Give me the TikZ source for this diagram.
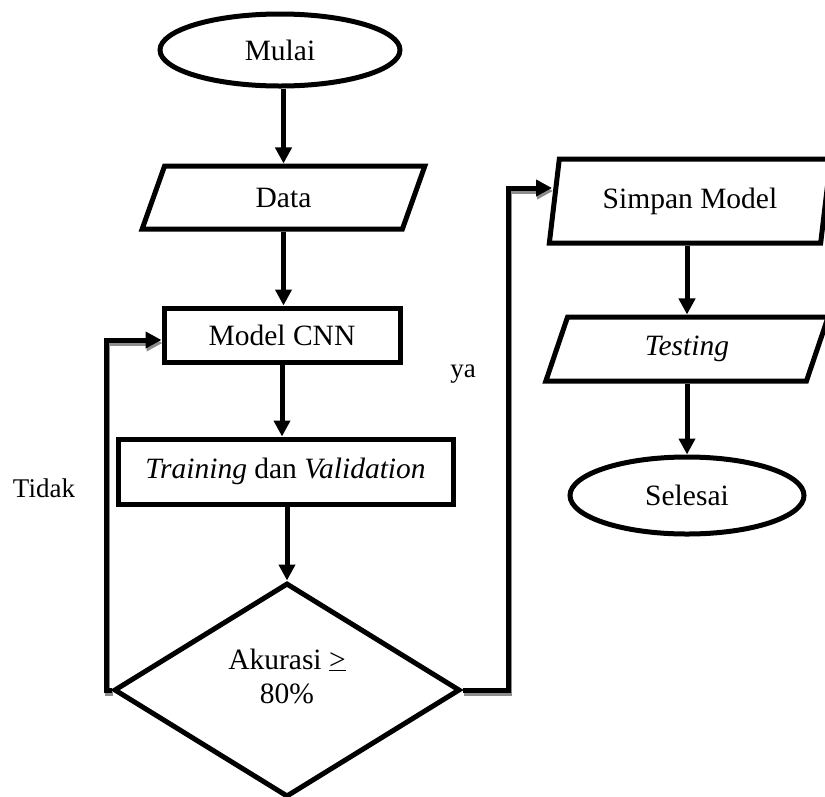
\documentclass[tikz,border=0pt]{standalone}
\usepackage{fontspec}
\setmainfont{Liberation Serif}
\usetikzlibrary{shapes.geometric,arrows.meta}
\begin{document}
\begin{tikzpicture}[x=1pt,y=-1pt,
  every node/.style={font=\fontsize{29.5}{34}\selectfont},
  base/.style={draw=black, line width=5pt, fill=white, inner sep=0pt},
  term/.style={base, ellipse},
  io/.style={base, trapezium, trapezium stretches=true},
  proc/.style={base, rectangle},
  dec/.style={base, diamond},
  lbl/.style={font=\fontsize{27}{31}\selectfont, inner sep=0pt},
  arr/.style={draw=black, line width=5pt, -{Triangle[length=16pt,width=16pt]}},
  shad/.style={draw=black!45, line width=5pt, -{Triangle[length=16pt,width=16pt]}, transform canvas={shift={(1pt,-3pt)}}}
]
\useasboundingbox (0,0) rectangle (825,796);

% nodes
\node[term, minimum width=240pt, minimum height=72pt] (mulai) at (280,50) {Mulai};
\node[io, trapezium left angle=75, trapezium right angle=105, minimum width=283pt, minimum height=63pt] (data) at (283.5,197.5) {Data};
\node[proc, minimum width=236pt, minimum height=54pt] (cnn) at (282,335) {Model CNN};
\node[proc, minimum width=335pt, minimum height=65pt] (train) at (285.5,471.5) {\textit{Training} dan \textit{Validation}};
\node[dec, minimum width=346pt, minimum height=214pt] (dia) at (287,690) {\phantom{A}};
\node[align=center, inner sep=0pt] (diatext) at (287,676) {Akurasi \underline{>}\\80\%};

\node[io, trapezium left angle=76, trapezium right angle=104, minimum width=282pt, minimum height=84pt] (simpan) at (690,201) {Simpan Model};
\node[io, trapezium left angle=73.5, trapezium right angle=106.5, minimum width=284pt, minimum height=64pt] (test) at (687,349) {\textit{Testing}};
\node[term, minimum width=234pt, minimum height=77pt] (sel) at (687,495.5) {Selesai};

\node[lbl] (ya) at (463,374) {ya};
\node[lbl] (tidak) at (44,488) {Tidak};

% loop coordinates
\coordinate (l1) at (106,690);
\coordinate (l2) at (106,340);
\coordinate (r1) at (508,690);
\coordinate (r2) at (508,188);
\coordinate (r3) at (552,188);

% shadows
\draw[shad] (dia.west) -- (l1) -- (l2) -- (cnn.west |- l2);
\draw[shad] (dia.east) -- (r1) -- (r2) -- (r3);

% connectors
\draw[arr] (mulai.south -| data.north) -- (data.north);
\draw[arr] (data.south) -- (data.south |- cnn.north);
\draw[arr] (cnn.south) -- (cnn.south |- train.north);
\draw[arr] (train.south -| dia.north) -- (dia.north);
\draw[arr] (dia.west) -- (l1) -- (l2) -- (cnn.west |- l2);
\draw[arr] (dia.east) -- (r1) -- (r2) -- (r3);
\draw[arr] (test.north |- simpan.south) -- (test.north);
\draw[arr] (test.south) -- (test.south |- sel.north);
\end{tikzpicture}
\end{document}
